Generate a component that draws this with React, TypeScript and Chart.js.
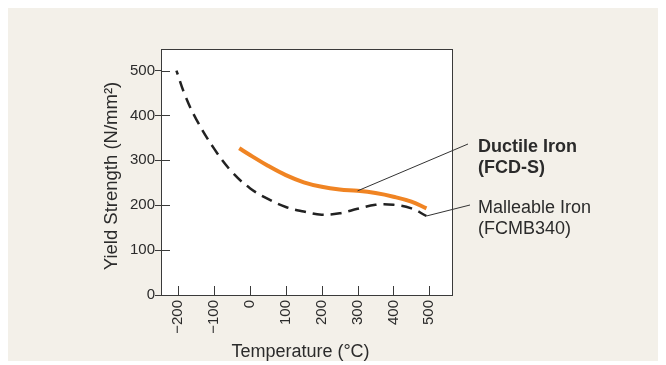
import { useEffect, useRef } from 'react';
import { Chart, registerables } from 'chart.js';

Chart.register(...registerables);

// ---- data ----
const xTickValues = [-200, -100, 0, 100, 200, 300, 400, 500];
const yTickValues = [0, 100, 200, 300, 400, 500];

const ductileTemp = [-30, 0, 50, 100, 150, 200, 250, 300, 350, 400, 450, 492];
const ductileYield = [327, 312, 288, 267, 251, 241, 235, 232, 227, 219, 208, 193];

const malleableTemp = [-205, -180, -150, -100, -50, 0, 50, 100, 150, 200, 250, 300, 350, 400, 450, 492];
const malleableYield = [500, 443, 392, 326, 274, 238, 214, 196, 186, 179, 182, 192, 201, 201, 193, 176];

const ductileLabel = ['Ductile Iron', '(FCD-S)'];
const malleableLabel = ['Malleable Iron', '(FCMB340)'];
const ductileLeaderTemp = 300;

const xTitle = 'Temperature (°C)';
const yTitle = 'Yield Strength (N/mm²)';

const FONT = "'Liberation Sans', Arial, Helvetica, sans-serif";
const TEXT = '#2b2b2b';
const AXIS = '#3a3a3a';

const fmt = (v: number) => (v < 0 ? '\u2212' + Math.abs(v) : String(v));

function drawLines(ctx: CanvasRenderingContext2D, lines: string[], x: number, y: number) {
  lines.forEach((t, i) => ctx.fillText(t, x, y + i * 20.5));
}

const framePlugin = {
  id: 'frameAndNotes',
  beforeDraw(chart: any) {
    const { ctx, chartArea: a } = chart;
    ctx.save();
    ctx.fillStyle = '#ffffff';
    ctx.fillRect(a.left, a.top, a.right - a.left, a.bottom - a.top);
    ctx.restore();
  },
  afterDraw(chart: any) {
    const { ctx, chartArea: a } = chart;
    const xs = chart.scales.x;
    const ys = chart.scales.y;
    ctx.save();
    // frame
    ctx.strokeStyle = AXIS;
    ctx.lineWidth = 1;
    ctx.strokeRect(a.left + 0.5, a.top + 0.5, a.right - a.left - 1, a.bottom - a.top);
    // inside ticks
    ctx.beginPath();
    xTickValues.forEach((v) => {
      const px = Math.round(xs.getPixelForValue(v)) + 0.5;
      ctx.moveTo(px, a.bottom);
      ctx.lineTo(px, a.bottom - 9);
    });
    yTickValues.forEach((v) => {
      const py = Math.round(ys.getPixelForValue(v)) + 0.5;
      ctx.moveTo(a.left, py);
      ctx.lineTo(a.left + 9, py);
    });
    ctx.stroke();

    // axis titles
    ctx.fillStyle = TEXT;
    ctx.textAlign = 'center';
    ctx.textBaseline = 'alphabetic';
    ctx.font = `18px ${FONT}`;
    ctx.fillText(xTitle, (a.left + a.right) / 2 - 6.5, 349);
    ctx.save();
    ctx.translate(108.5, (a.top + a.bottom) / 2 + 4);
    ctx.rotate(-Math.PI / 2);
    ctx.font = `18.5px ${FONT}`;
    ctx.fillText(yTitle, 0, 0);
    ctx.restore();

    // leader lines
    const textX = a.right + 25;
    const di = ductileTemp.indexOf(ductileLeaderTemp);
    const mi = malleableTemp.length - 1;
    ctx.strokeStyle = '#333333';
    ctx.lineWidth = 1;
    ctx.beginPath();
    ctx.moveTo(xs.getPixelForValue(ductileTemp[di]), ys.getPixelForValue(ductileYield[di]));
    ctx.lineTo(textX - 10, a.top + 95);
    ctx.moveTo(xs.getPixelForValue(malleableTemp[mi]), ys.getPixelForValue(malleableYield[mi]));
    ctx.lineTo(textX - 8, a.top + 156);
    ctx.stroke();

    // series labels
    ctx.fillStyle = TEXT;
    ctx.textAlign = 'left';
    ctx.textBaseline = 'alphabetic';
    ctx.font = `bold 18px ${FONT}`;
    drawLines(ctx, ductileLabel, textX, a.top + 103);
    ctx.font = `18px ${FONT}`;
    drawLines(ctx, malleableLabel, textX, a.top + 164);
    ctx.restore();
  },
};

export default function App() {
  const ref = useRef<HTMLCanvasElement | null>(null);
  useEffect(() => {
    if (!ref.current) return;
    const chart = new Chart(ref.current, {
      type: 'scatter',
      data: {
        datasets: [
          {
            label: ductileLabel.join(' '),
            data: ductileTemp.map((t, i) => ({ x: t, y: ductileYield[i] })),
            showLine: true,
            borderColor: '#f08423',
            borderWidth: 4,
            pointRadius: 0,
            tension: 0.4,
            borderCapStyle: 'butt',
          },
          {
            label: malleableLabel.join(' '),
            data: malleableTemp.map((t, i) => ({ x: t, y: malleableYield[i] })),
            showLine: true,
            borderColor: '#222222',
            borderWidth: 2.5,
            borderDash: [11, 7],
            borderDashOffset: 7,
            pointRadius: 0,
            tension: 0.4,
          },
        ],
      },
      options: {
        animation: false,
        responsive: false,
        devicePixelRatio: 1,
        layout: { padding: { left: 0, top: 41, right: 206, bottom: 0 } },
        plugins: { legend: { display: false }, tooltip: { enabled: false } },
        scales: {
          x: {
            type: 'linear',
            min: -248,
            max: 566,
            afterBuildTicks: (s: any) => {
              s.ticks = xTickValues.map((v) => ({ value: v }));
            },
            afterFit: (s: any) => {
              s.height = 66;
            },
            grid: { drawOnChartArea: false, drawTicks: false },
            border: { display: false },
            ticks: {
              autoSkip: false,
              minRotation: 90,
              maxRotation: 90,
              padding: 5,
              color: TEXT,
              font: { family: FONT, size: 15 },
              callback: (v: any) => fmt(Number(v)),
            },
            title: { display: false, text: xTitle },
          },
          y: {
            type: 'linear',
            min: 0,
            max: 548,
            afterBuildTicks: (s: any) => {
              s.ticks = yTickValues.map((v) => ({ value: v }));
            },
            afterFit: (s: any) => {
              s.width = 153;
            },
            grid: { drawOnChartArea: false, drawTicks: true, tickLength: 6, color: AXIS },
            border: { display: false },
            ticks: {
              padding: 0,
              color: TEXT,
              font: { family: FONT, size: 15 },
              callback: (v: any) => fmt(Number(v)),
            },
            title: { display: false, text: yTitle },
          },
        },
      } as any,
      plugins: [framePlugin],
    });
    return () => chart.destroy();
  }, []);

  return (
    <div style={{ background: '#f3f0e9', width: 651, height: 353 }}>
      <canvas ref={ref} width={651} height={353} style={{ display: 'block' }} />
    </div>
  );
}
